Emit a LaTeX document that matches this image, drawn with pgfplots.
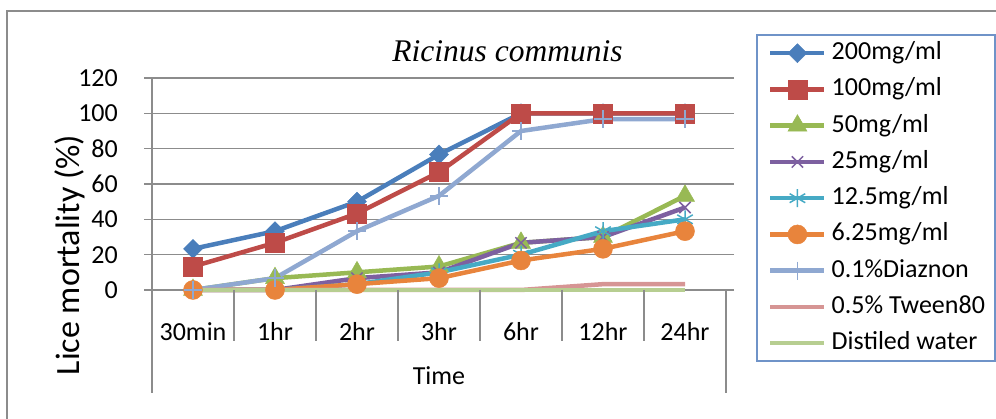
\documentclass[border=0pt]{standalone}
\usepackage{fontspec}
\setmainfont{Carlito}
\newfontfamily\titlefont{Liberation Serif}
\usepackage{pgfplots}
\pgfplotsset{compat=1.18}
\definecolor{cBlue}{HTML}{4A7EBB}
\definecolor{cRed}{HTML}{BE4B48}
\definecolor{cGreen}{HTML}{98B954}
\definecolor{cPurple}{HTML}{7D60A0}
\definecolor{cTeal}{HTML}{46AAC5}
\definecolor{cOrange}{HTML}{E8843C}
\definecolor{cDiaz}{HTML}{8FA8D1}
\definecolor{cTween}{HTML}{D69594}
\definecolor{cWater}{HTML}{B7CE91}
\definecolor{gridgray}{HTML}{8C8C8C}
\definecolor{legblue}{HTML}{6F93C8}
\begin{document}
\begin{tikzpicture}
\useasboundingbox (0pt,0pt) rectangle (996pt,419pt);
\begin{scope}
\clip (0pt,0pt) rectangle (996pt,419pt);
\draw[gridgray, line width=1.3pt] (7pt,-5pt) -- (7pt,408pt) -- (1000pt,408pt);
\end{scope}
\begin{axis}[
  at={(152pt,129pt)}, anchor=south west,
  scale only axis, width=574pt, height=212pt,
  xmin=-0.5, xmax=6.5, ymin=0, ymax=120,
  clip=false,
  /pgf/number format/assume math mode=true,
  ytick={0,20,...,120},
  xtick={0,...,6},
  xticklabels={30min,1hr,2hr,3hr,6hr,12hr,24hr},
  ymajorgrids,
  grid style={gridgray, line width=1.5pt},
  axis line style={draw=none},
  tick align=outside, major tick length=8pt,
  xtick style={draw=none},
  ytick style={gridgray, line width=1.5pt},
  tick label style={font=\fontsize{26}{26}\selectfont, text=black},
  xticklabel style={anchor=base, inner sep=0pt, yshift=-43pt},
  yticklabel style={anchor=east, inner sep=0pt, xshift=-26pt},
  legend style={at={(1.05401,1.20283)}, anchor=north west, draw=none, fill=none,
    inner xsep=11pt, inner ysep=5.5pt, row sep=11.25pt, column sep=5pt,
    font=\fontsize{26}{26}\selectfont,
    nodes={inner sep=0pt, text height=19pt, text depth=6pt}},
  legend cell align=left,
  legend image code/.code={\draw[mark repeat=2,mark phase=2] plot coordinates {(0pt,0pt) (27pt,0pt) (54pt,0pt)};},
  every axis plot/.append style={line width=4.5pt},
]
\addplot[cBlue, mark=square*, mark size=6.7pt, mark options={rotate=45, line width=0.5pt}]
  coordinates {(0,23.3) (1,33.3) (2,50) (3,76.7) (4,100) (5,100) (6,100)};
\addlegendentry{200mg/ml}
\addplot[cRed, mark=square*, mark size=9.5pt, mark options={line width=0.5pt}]
  coordinates {(0,13.3) (1,26.7) (2,43.3) (3,66.7) (4,100) (5,100) (6,100)};
\addlegendentry{100mg/ml}
\addplot[cGreen, mark=triangle*, mark size=11pt, mark options={line width=0.5pt}]
  coordinates {(0,0) (1,6.7) (2,10) (3,13.3) (4,26.7) (5,30) (6,53.3)};
\addlegendentry{50mg/ml}
\addplot[cPurple, mark=x, mark size=8pt, mark options={line width=1.5pt}]
  coordinates {(0,0) (1,0) (2,6.7) (3,10) (4,26.7) (5,30) (6,46.7)};
\addlegendentry{25mg/ml}
\addplot[cTeal, mark=asterisk, mark size=9pt, mark options={line width=1.5pt}]
  coordinates {(0,0) (1,0) (2,3.3) (3,10) (4,20) (5,33.3) (6,40)};
\addlegendentry{12.5mg/ml}
\addplot[cOrange, mark=*, mark size=9.5pt, mark options={line width=0.5pt}]
  coordinates {(0,0) (1,0) (2,3.3) (3,6.7) (4,16.7) (5,23.3) (6,33.3)};
\addlegendentry{6.25mg/ml}
\addplot[cDiaz, mark=+, mark size=9pt, mark options={line width=1.5pt}]
  coordinates {(0,0) (1,6.7) (2,33.3) (3,53.3) (4,90) (5,96.7) (6,96.7)};
\addlegendentry{0.1\%Diaznon}
\addplot[cTween]
  coordinates {(0,0) (1,0) (2,0) (3,0) (4,0) (5,3.3) (6,3.3)};
\addlegendentry{0.5\% Tween80}
\addplot[cWater]
  coordinates {(0,0) (1,0) (2,0) (3,0) (4,0) (5,0) (6,0)};
\addlegendentry{Distiled water}
\draw[gridgray, line width=1.5pt] (axis cs:-0.5,120) -- (axis cs:-0.5,0) -- ++(0pt,-103pt);
\draw[gridgray, line width=1.5pt] (axis cs:6.5,0) -- ++(0pt,-103pt);
\pgfplotsinvokeforeach{0.5,1.5,2.5,3.5,4.5,5.5}{\draw[gridgray, line width=1.5pt] (axis cs:#1,0) -- ++(0pt,-51pt);}
\end{axis}
\draw[legblue, line width=1.3pt] (757pt,58pt) rectangle (995pt,384pt);
\node[anchor=base, inner sep=0pt, font=\fontsize{31.5}{31.5}\titlefont\itshape] at (507.5pt,357pt) {Ricinus communis};
\node[anchor=base, inner sep=0pt, font=\fontsize{26}{26}\selectfont] at (439pt,34pt) {Time};
\node[rotate=90, inner sep=0pt, font=\fontsize{34}{34}\selectfont] at (70pt,164pt) {Lice mortality (\%)};
\end{tikzpicture}
\end{document}
